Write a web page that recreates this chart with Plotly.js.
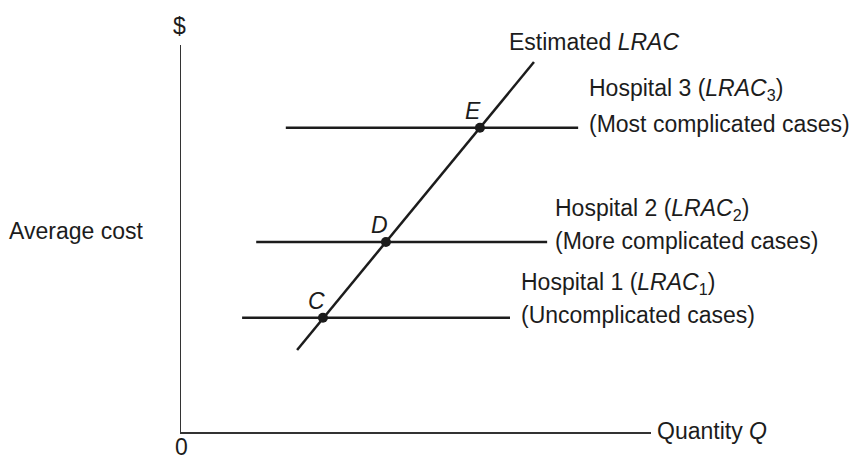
<!DOCTYPE html>
<html>
<head>
<meta charset="utf-8">
<script src="https://cdn.plot.ly/plotly-3.0.1.min.js"></script>
<style>
  html, body { margin: 0; padding: 0; background: white; }
  #plot { width: 859px; height: 459px; }
</style>
</head>
<body>
<div id="plot"></div>
<script>
// estimated LRAC line (end points)
const lracX = [24.7, 75.1];
const lracY = [21.2, 95.6];

// hospital cost curves (flat), each from xStart to xEnd at cost level
const hospNames = ['Hospital 1', 'Hospital 2', 'Hospital 3'];
const hospStart = [13.0, 16.0, 22.3];
const hospEnd = [70.0, 77.9, 84.5];
const hospCost = [29.5, 49.1, 78.6];

// points where the estimated LRAC crosses each hospital
const ptLabels = ['C', 'D', 'E'];
const ptX = [30.2, 43.6, 63.6];
const ptY = [29.5, 49.1, 78.6];

const ink = '#1c1c1c';
const fontFam = '"Liberation Sans", Arial, sans-serif';
const fs = 23;

const traces = [];

hospNames.forEach((name, i) => {
  traces.push({
    x: [hospStart[i], hospEnd[i]],
    y: [hospCost[i], hospCost[i]],
    mode: 'lines',
    type: 'scatter',
    name: name,
    line: {color: ink, width: 2.5},
    hoverinfo: 'skip'
  });
});

traces.push({
  x: lracX,
  y: lracY,
  mode: 'lines',
  type: 'scatter',
  name: 'Estimated LRAC',
  line: {color: ink, width: 2.5},
  hoverinfo: 'skip'
});

traces.push({
  x: ptX,
  y: ptY,
  mode: 'markers',
  type: 'scatter',
  name: 'points',
  marker: {color: ink, size: 10},
  hoverinfo: 'skip'
});

// axis ranges are [0,100] so paper = value / 100 (paper lets text sit outside the plot)
function note(x, y, text, xanchor) {
  return {
    x: x / 100, y: y / 100, xref: 'paper', yref: 'paper',
    text: text, showarrow: false,
    xanchor: xanchor || 'left', yanchor: 'middle',
    font: {family: fontFam, size: fs, color: ink}
  };
}

const annotations = [
  note(69.4, 100.8, 'Estimated <i>LRAC</i>'),
  note(86.4, 88.6, 'Hospital 3 (<i>LRAC</i><sub>3</sub>)'),
  note(86.4, hospCost[2] + 1.0, '(Most complicated cases)'),
  note(79.2, 57.5, 'Hospital 2 (<i>LRAC</i><sub>2</sub>)'),
  note(79.2, hospCost[1] + 0.2, '(More complicated cases)'),
  note(72.0, 38.4, 'Hospital 1 (<i>LRAC</i><sub>1</sub>)'),
  note(72.0, hospCost[0] + 0.7, '(Uncomplicated cases)'),
  note(100.9, 0.2, 'Quantity <i>Q</i>'),
  note(0, -4.0, '0', 'center'),
  note(-0.3, 104.8, '$', 'center'),
  note(-37.0, 51.9, 'Average cost')
];

ptLabels.forEach((lab, i) => {
  annotations.push(note(ptX[i] - 1.4, ptY[i] + 4.3, '<i>' + lab + '</i>', 'center'));
});

const layout = {
  width: 859,
  height: 459,
  margin: {l: 181, r: 208, t: 45, b: 27},
  paper_bgcolor: 'white',
  plot_bgcolor: 'white',
  showlegend: false,
  font: {family: fontFam, size: fs, color: ink},
  xaxis: {
    range: [0, 100], showgrid: false, zeroline: false,
    showticklabels: false, ticks: '', showline: true,
    linecolor: '#333', linewidth: 1.5, fixedrange: true
  },
  yaxis: {
    range: [0, 100], showgrid: false, zeroline: false,
    showticklabels: false, ticks: '', showline: true,
    linecolor: '#333', linewidth: 1.5, fixedrange: true
  },
  annotations: annotations
};

Plotly.newPlot('plot', traces, layout, {displayModeBar: false, staticPlot: true});
</script>
</body>
</html>
